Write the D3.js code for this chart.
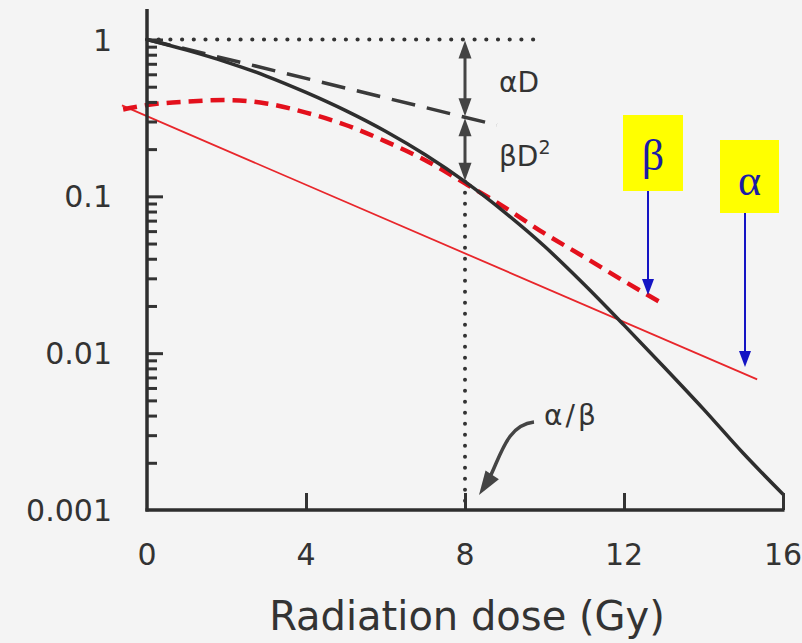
<!DOCTYPE html>
<html>
<head>
<meta charset="utf-8">
<script src="https://cdn.jsdelivr.net/npm/d3@7"></script>
<style>
    body { margin: 0; background: #f4f4f4; }
    svg { display: block; }
    text { font-family: "DejaVu Sans", sans-serif; fill: #333; }
</style>
</head>
<body>
<svg id="chart" width="802" height="643"></svg>
<script>
// linear-quadratic survival curve (black solid)
const lqDose = [0, 1, 2, 3, 4, 5, 6, 7, 8, 9, 10, 11, 12, 13, 14, 15, 16];
const lqSurv = [1, 0.855, 0.718, 0.585, 0.46, 0.352, 0.26, 0.184, 0.124, 0.079, 0.048,
    0.0274, 0.0151, 0.0082, 0.0044, 0.0023, 0.00126];

// alpha component alone (black dashed)
const alphaDose = [0, 8.8];
const alphaSurv = [1, 0.285];

// red solid straight line (alpha)
const redLineDose = [-0.63, 15.35];
const redLineSurv = [0.38, 0.0068];

// red dashed curve (beta)
const betaDose = [-0.6, 0, 1, 2, 3, 4, 5, 6, 7, 8, 9, 10, 11, 12, 12.9];
const betaSurv = [0.358, 0.382, 0.402, 0.411, 0.391, 0.342, 0.285, 0.224, 0.17, 0.121,
    0.085, 0.058, 0.041, 0.0288, 0.0212];

// horizontal dotted reference at S = 1
const refDose = [0, 9.9];
const alphaBetaDose = 8;

const xTicks = [0, 4, 8, 12, 16];
const yTicks = [0.001, 0.01, 0.1, 1];
const yTickLabels = ['0.001', '0.01', '0.1', '1'];

var svg = d3.select('#chart');
var x = d3.scaleLinear().domain([0, 16]).range([147, 783]);
var y = d3.scaleLog().domain([0.001, 1]).range([510, 39.5]);

var straight = d3.line().x(d => x(d[0])).y(d => y(d[1]));
var smooth = d3.line().x(d => x(d[0])).y(d => y(d[1])).curve(d3.curveMonotoneX);

// arrow head helper: tip point and direction (unit dx, dy)
function head(g, tx, ty, dx, dy, w, h, color) {
    var bx = tx - dx * h, by = ty - dy * h;
    var px = -dy * w / 2, py = dx * w / 2;
    g.append('polygon')
        .attr('points', [[tx, ty], [bx + px, by + py], [bx - px, by - py]].map(p => p.join(',')).join(' '))
        .attr('fill', color);
}

// dotted reference lines
svg.append('path')
    .attr('d', straight(refDose.map(d => [d, 1])))
    .attr('stroke', '#333').attr('stroke-width', 4.2).attr('fill', 'none')
    .attr('stroke-linecap', 'round').attr('stroke-dasharray', '0,11.7');

var lqAt8 = lqSurv[lqDose.indexOf(alphaBetaDose)];
svg.append('path')
    .attr('d', straight([[alphaBetaDose, lqAt8], [alphaBetaDose, 0.001]]))
    .attr('stroke', '#333').attr('stroke-width', 4).attr('fill', 'none')
    .attr('stroke-linecap', 'round').attr('stroke-dasharray', '0,11');

// red lines
svg.append('path')
    .attr('d', straight(d3.zip(redLineDose, redLineSurv)))
    .attr('stroke', '#e8262b').attr('stroke-width', 1.8).attr('fill', 'none');

svg.append('path')
    .attr('d', smooth(d3.zip(betaDose, betaSurv)))
    .attr('stroke', '#e3101c').attr('stroke-width', 4.5).attr('fill', 'none')
    .attr('stroke-dasharray', '14,8');

// black lines
svg.append('path')
    .attr('d', straight(d3.zip(alphaDose, alphaSurv)))
    .attr('stroke', '#3a3a3a').attr('stroke-width', 3.5).attr('fill', 'none')
    .attr('stroke-dasharray', '24,12');

svg.append('path')
    .attr('d', smooth(d3.zip(lqDose, lqSurv)))
    .attr('stroke', '#2e2e2e').attr('stroke-width', 3.5).attr('fill', 'none');

// axes
var minor = [];
[0.001, 0.01, 0.1].forEach(k => d3.range(2, 10).forEach(m => minor.push(m * k)));

svg.append('g').attr('transform', 'translate(' + x(0) + ',0)')
    .call(d3.axisRight(y).tickValues(minor).tickSize(10).tickFormat(''))
    .call(g => g.select('.domain').remove())
    .selectAll('line').attr('stroke', '#333').attr('stroke-width', 3);

svg.append('g').attr('transform', 'translate(' + x(0) + ',0)')
    .call(d3.axisRight(y).tickValues([0.01, 0.1, 1]).tickSize(16).tickFormat(''))
    .call(g => g.select('.domain').remove())
    .selectAll('line').attr('stroke', '#333').attr('stroke-width', 3);

svg.append('g').attr('transform', 'translate(0,' + y(0.001) + ')')
    .call(d3.axisTop(x).tickValues([4, 8, 12, 16]).tickSize(17).tickFormat(''))
    .call(g => g.select('.domain').remove())
    .selectAll('line').attr('stroke', '#333').attr('stroke-width', 3);

svg.append('line')
    .attr('x1', x(0)).attr('x2', x(0)).attr('y1', y(0.001) + 1.5).attr('y2', 9)
    .attr('stroke', '#2e2e2e').attr('stroke-width', 3.5);
svg.append('line')
    .attr('x1', x(0) - 1.5).attr('x2', x(16) + 1.5).attr('y1', y(0.001)).attr('y2', y(0.001))
    .attr('stroke', '#2e2e2e').attr('stroke-width', 3.5);

svg.selectAll('text.ylab').data(yTicks).enter().append('text')
    .attr('class', 'ylab')
    .attr('x', 112).attr('y', d => y(d) + 11)
    .attr('text-anchor', 'end').attr('font-size', 30)
    .text((d, i) => yTickLabels[i]);

svg.selectAll('text.xlab').data(xTicks).enter().append('text')
    .attr('class', 'xlab')
    .attr('x', d => x(d)).attr('y', 565)
    .attr('text-anchor', 'middle').attr('font-size', 30)
    .text(d => d);

svg.append('text')
    .attr('x', x(8) + 2).attr('y', 630)
    .attr('text-anchor', 'middle').attr('font-size', 40)
    .text('Radiation dose (Gy)');

// alphaD / betaD^2 double arrows at D = 8
var xa = x(alphaBetaDose);
var sJ = Math.exp(Math.log(alphaSurv[0]) +
    (Math.log(alphaSurv[1]) - Math.log(alphaSurv[0])) * alphaBetaDose / alphaDose[1]);
var yTop = y(1), yMid = y(sJ), yBot = y(lqAt8);
var grey = '#444';
var arrows = svg.append('g');
[[yTop, yMid], [yMid, yBot]].forEach(function(seg) {
    arrows.append('line')
        .attr('x1', xa).attr('x2', xa).attr('y1', seg[0] + 10).attr('y2', seg[1] - 10)
        .attr('stroke', grey).attr('stroke-width', 3);
    head(arrows, xa, seg[0] + 1, 0, -1, 13, 18, grey);
    head(arrows, xa, seg[1] - 1, 0, 1, 13, 18, grey);
});

svg.append('text')
    .attr('x', xa + 34).attr('y', 92).attr('font-size', 28).attr('fill', '#444')
    .text('\u03b1D');
var bl = svg.append('text')
    .attr('x', xa + 34).attr('y', 166).attr('font-size', 28).attr('fill', '#444');
bl.append('tspan').text('\u03b2D');
bl.append('tspan').attr('font-size', 19).attr('dy', -12).text('2');

// alpha/beta label with curved arrow
svg.append('text')
    .attr('x', xa + 79).attr('y', 425).attr('font-size', 28)
    .attr('letter-spacing', 3).attr('fill', '#444')
    .text('\u03b1/\u03b2');
var tipX = xa + 14, tipY = y(0.001) - 15;
svg.append('path')
    .attr('d', 'M' + (xa + 69) + ',422 C' + (xa + 42) + ',425 ' + (xa + 36) + ',455 ' + (tipX + 10) + ',' + (tipY - 16))
    .attr('stroke', grey).attr('stroke-width', 3.5).attr('fill', 'none');
head(svg, tipX, tipY, -0.55, 0.835, 16, 24, grey);

// yellow key boxes with blue arrows
var keys = [
    {label: '\u03b2', x0: 623, x1: 683, y0: 115, y1: 191, ax: 648, tip: 295, base: 170},
    {label: '\u03b1', x0: 720, x1: 779, y0: 140, y1: 213, ax: 745, tip: 367, base: 195}
];
keys.forEach(function(k) {
    svg.append('rect')
        .attr('x', k.x0).attr('y', k.y0).attr('width', k.x1 - k.x0).attr('height', k.y1 - k.y0)
        .attr('fill', '#ffff00');
    svg.append('text')
        .attr('x', (k.x0 + k.x1) / 2).attr('y', k.base)
        .attr('text-anchor', 'middle').attr('font-size', 44)
        .style('font-family', '"Liberation Serif", serif').style('fill', '#1c1ca6')
        .text(k.label);
    svg.append('line')
        .attr('x1', k.ax).attr('x2', k.ax).attr('y1', k.y1).attr('y2', k.tip - 12)
        .attr('stroke', '#1414c4').attr('stroke-width', 2);
    head(svg, k.ax, k.tip, 0, 1, 12, 16, '#1414c4');
});
</script>
</body>
</html>
